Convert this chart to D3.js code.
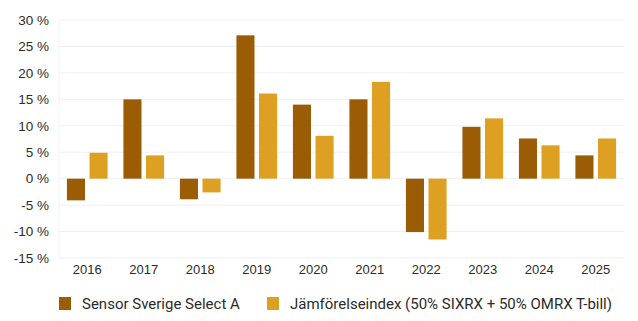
<!DOCTYPE html>
<html><head><meta charset="utf-8">
<script src="https://cdn.jsdelivr.net/npm/d3@7"></script>
<style>body{margin:0;background:#fff;}svg{display:block;font-family:Roboto,"Open Sans",sans-serif;}</style>
</head><body><svg id="c" width="638" height="321"></svg>
<script>
const years = ["2016","2017","2018","2019","2020","2021","2022","2023","2024","2025"];
const fundValues = [-4.1, 15.0, -3.9, 27.1, 14.0, 15.0, -10.1, 9.8, 7.6, 4.4];
const indexValues = [4.9, 4.4, -2.6, 16.1, 8.1, 18.3, -11.5, 11.4, 6.3, 7.6];
const seriesNames = ["Sensor Sverige Select A", "Jämförelseindex (50% SIXRX + 50% OMRX T-bill)"];
const colors = ["#9B5C06", "#DDA023"];
const yTicks = [-15, -10, -5, 0, 5, 10, 15, 20, 25, 30];

const svg = d3.select("#c");
const m = {l: 59, r: 14, t: 20, b: 63};
const W = 638, H = 321;
const x0 = d3.scaleBand().domain(years).range([m.l, W - m.r]).padding(0);
const x1 = d3.scaleBand().domain([0, 1]).range([0, x0.bandwidth()]).paddingInner(0.2).paddingOuter(0.35);
const y = d3.scaleLinear().domain([-15, 30]).range([H - m.b, m.t]);

// gridlines
svg.append("g").selectAll("line").data(yTicks).join("line")
  .attr("x1", m.l).attr("x2", W - m.r)
  .attr("y1", d => y(d)).attr("y2", d => y(d))
  .attr("stroke", "#f0f0f0").attr("stroke-width", 1);
svg.append("line").attr("x1", m.l).attr("x2", m.l).attr("y1", y(30)).attr("y2", y(-15)).attr("stroke", "#f4f4f4");

// y axis
const yAxis = d3.axisLeft(y).tickValues(yTicks).tickSize(0).tickPadding(10).tickFormat(d => d + " %");
const gy = svg.append("g").attr("transform", `translate(${m.l},0)`).call(yAxis);
gy.select(".domain").remove();
gy.selectAll("text").attr("font-size", 13.5).attr("fill", "#2b2b2b");

// x axis
const xAxis = d3.axisBottom(x0).tickSize(0).tickPadding(7);
const gx = svg.append("g").attr("transform", `translate(0,${y(-15)})`).call(xAxis);
gx.select(".domain").remove();
gx.selectAll("text").attr("font-size", 13).attr("fill", "#2b2b2b");

// bars
const data = years.map((yr, i) => ({yr, vals: [fundValues[i], indexValues[i]]}));
const groups = svg.append("g").selectAll("g").data(data).join("g")
  .attr("transform", d => `translate(${x0(d.yr)},0)`);
groups.selectAll("rect").data(d => d.vals.map((v, k) => ({v, k}))).join("rect")
  .attr("x", d => x1(d.k)).attr("width", x1.bandwidth())
  .attr("y", d => y(Math.max(0, d.v)))
  .attr("height", d => Math.abs(y(d.v) - y(0)))
  .attr("fill", d => colors[d.k]);

// legend
const legX = [59, 267];
const lg = svg.append("g").selectAll("g").data(seriesNames).join("g")
  .attr("transform", (d, i) => `translate(${legX[i]},297)`);
lg.append("rect").attr("width", 12).attr("height", 13).attr("fill", (d, i) => colors[i]);
lg.append("text").attr("x", 23).attr("y", 12).attr("font-size", 15).attr("fill", "#2b2b2b").text(d => d);
</script></body></html>
